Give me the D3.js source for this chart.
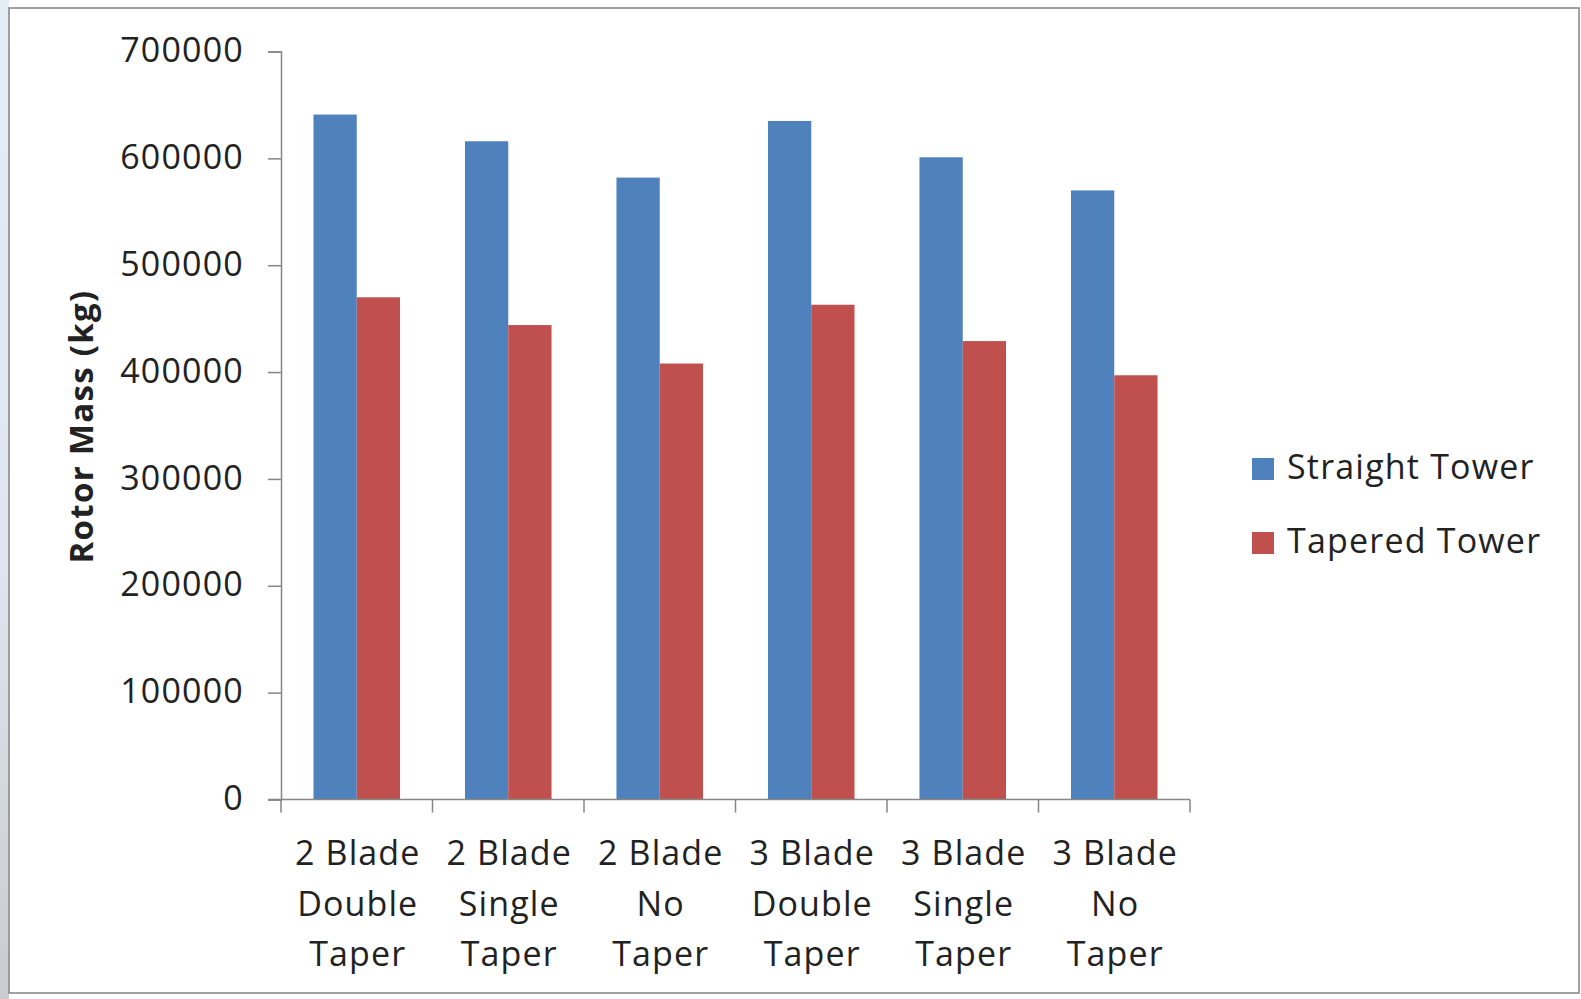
<!DOCTYPE html>
<html>
<head>
<meta charset="utf-8">
<script src="https://cdn.jsdelivr.net/npm/d3@7"></script>
<style>
  html, body { margin: 0; padding: 0; background: #ffffff; }
  svg { display: block; }
  text { font-family: "Open Sans", "Noto Sans", sans-serif; fill: #222; }
</style>
</head>
<body>
<svg id="chart" width="1581" height="999"></svg>
<script>
// Rotor mass by blade count and blade taper, for two tower designs
const categories = [
  ["2 Blade", "Double", "Taper"],
  ["2 Blade", "Single", "Taper"],
  ["2 Blade", "No", "Taper"],
  ["3 Blade", "Double", "Taper"],
  ["3 Blade", "Single", "Taper"],
  ["3 Blade", "No", "Taper"]
];
const seriesNames = ["Straight Tower", "Tapered Tower"];
const straightTower = [641000, 616000, 582000, 635000, 601000, 570000];
const taperedTower  = [470000, 444000, 408000, 463000, 429000, 397000];
const yTicks = [0, 100000, 200000, 300000, 400000, 500000, 600000, 700000];
const colors = ["#4f81bd", "#c0504d"];

const svg = d3.select("#chart");

// window frame
const defs = svg.append("defs");
const grad = defs.append("linearGradient").attr("id", "edge").attr("x1", 0).attr("y1", 0).attr("x2", 0).attr("y2", 1);
grad.append("stop").attr("offset", "0%").attr("stop-color", "#e4ecf6");
grad.append("stop").attr("offset", "55%").attr("stop-color", "#dfe6f0");
grad.append("stop").attr("offset", "100%").attr("stop-color", "#c9cbcf");
svg.append("rect").attr("x", 0).attr("y", 0).attr("width", 9).attr("height", 999).attr("fill", "url(#edge)");
svg.append("rect").attr("x", 9).attr("y", 8).attr("width", 1570).attr("height", 985)
  .attr("fill", "#ffffff").attr("stroke", "#8a8a8a").attr("stroke-width", 1.6);

const plot = { left: 281, right: 1190, top: 51.5, bottom: 799.5 };

const y = d3.scaleLinear().domain([0, 700000]).range([plot.bottom, plot.top]);
const keys = categories.map(c => c.join(" "));
const x0 = d3.scaleBand().domain(keys).range([plot.left, plot.right]).padding(0);
const bw = x0.bandwidth();
const gap = bw * 0.75 / 3.5;
const x1 = d3.scaleBand().domain(seriesNames).range([gap, bw - gap]).padding(0);

const values = [straightTower, taperedTower];

// bars
seriesNames.forEach((s, si) => {
  svg.append("g").selectAll("rect")
    .data(values[si])
    .join("rect")
    .attr("x", (d, i) => x0(keys[i]) + x1(s))
    .attr("y", d => y(d))
    .attr("width", x1.bandwidth())
    .attr("height", d => y(0) - y(d))
    .attr("fill", colors[si]);
});

// y axis
const yAxis = svg.append("g")
  .attr("transform", `translate(${plot.left},0)`)
  .call(d3.axisLeft(y).tickValues(yTicks).tickSize(13).tickPadding(24).tickFormat(d3.format("d")));
yAxis.select(".domain").attr("stroke", "#868686").attr("stroke-width", 1.5);
yAxis.selectAll(".tick line").attr("stroke", "#868686").attr("stroke-width", 1.5);
yAxis.selectAll(".tick text")
  .attr("font-family", "'Open Sans', sans-serif")
  .attr("font-size", 34).attr("fill", "#222").attr("dy", "0.30em")
  .attr("letter-spacing", "1.2px");

// x axis line and boundary ticks
const xg = svg.append("g");
xg.append("line").attr("x1", plot.left - 13).attr("x2", plot.right)
  .attr("y1", y(0)).attr("y2", y(0)).attr("stroke", "#868686").attr("stroke-width", 1.5);
const bounds = keys.map(k => x0(k)).concat([plot.right]);
xg.selectAll("line.tk").data(bounds).join("line").attr("class", "tk")
  .attr("x1", d => d).attr("x2", d => d)
  .attr("y1", y(0)).attr("y2", y(0) + 13)
  .attr("stroke", "#868686").attr("stroke-width", 1.5);

// category labels
const lab = xg.selectAll("text.cat").data(categories).join("text").attr("class", "cat")
  .attr("text-anchor", "middle").attr("font-size", 34).attr("letter-spacing", "1.1px");
lab.selectAll("tspan").data((d, i) => d.map(t => ({ t, i }))).join("tspan")
  .attr("x", d => x0(keys[d.i]) + bw / 2 + 1)
  .attr("y", (d, j) => 865 + j * 50.7)
  .text(d => d.t);

// y axis title
svg.append("text")
  .attr("transform", `translate(93,${(plot.top + plot.bottom) / 2 + 1}) rotate(-90)`)
  .attr("text-anchor", "middle").attr("font-size", 33).attr("font-weight", "bold")
  .attr("letter-spacing", "1.3px")
  .text("Rotor Mass (kg)");

// legend
const legend = svg.append("g");
seriesNames.forEach((s, i) => {
  const ly = 458 + i * 74;
  legend.append("rect").attr("x", 1252).attr("y", ly).attr("width", 22).attr("height", 22).attr("fill", colors[i]);
  legend.append("text").attr("x", 1287).attr("y", ly + 21).attr("font-size", 34)
    .attr("letter-spacing", "1.2px").text(s);
});
</script>
</body>
</html>
